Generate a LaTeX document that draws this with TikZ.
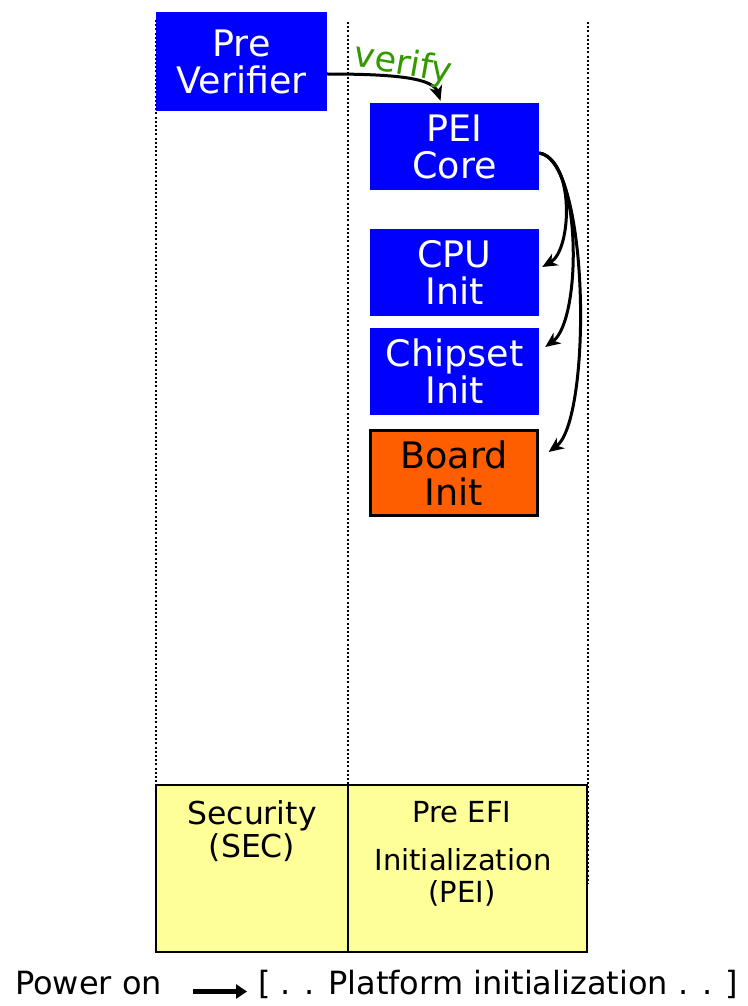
\documentclass[tikz,border=0pt]{standalone}
\usepackage{fontspec}
\setmainfont{DejaVu Sans}
\usetikzlibrary{arrows.meta,calc}
\definecolor{stageblue}{RGB}{0,0,255}
\definecolor{boardorange}{RGB}{255,94,0}
\definecolor{phaseyellow}{RGB}{255,255,153}
\definecolor{verifygreen}{RGB}{51,153,0}
\begin{document}
\begin{tikzpicture}[x=1pt,y=-1pt,
  module/.style={rectangle, fill=stageblue, text=white, inner sep=0pt,
    minimum width=169pt, minimum height=87pt, align=center,
    font=\fontsize{36.5}{37}\selectfont},
  phase/.style={rectangle, draw=black, fill=phaseyellow, line width=2.2pt,
    inner sep=0pt, minimum height=167pt},
  phasetext/.style={inner sep=0pt, align=center},
  lane/.style={line width=2pt, dash pattern=on 2pt off 2.2pt},
  dispatch/.style={line width=3pt, -{Stealth[length=15pt,width=13pt,inset=4.5pt]}},
]
\useasboundingbox (0,0) rectangle (747,1006);

% phase separators
\draw[lane] (156,20) -- (156,785);
\draw[lane] (348,22) -- (348,785);
\draw[lane] (588,22) -- (588,884);

% SEC and PEI phases
\node[phase, minimum width=192pt] (sec) at (252,868.5) {};
\node[phase, minimum width=239pt] (pei) at (467.5,868.5) {};
\node[phasetext, font=\fontsize{31.5}{33}\selectfont] (sectext) at (252,831) {Security\\(SEC)};
\node[phasetext, anchor=base, font=\fontsize{29}{32}\selectfont] (peititle) at (462,822) {Pre EFI};
\node[phasetext, anchor=base, font=\fontsize{29}{32}\selectfont] (peiinit) at (463,870) {Initialization};
\node[phasetext, anchor=base, font=\fontsize{29}{32}\selectfont] (peiabbr) at (462,902) {(PEI)};

% modules
\node[module, minimum width=171pt, minimum height=99pt] (pre) at (241.5,61.5) {Pre\\Verifier};
\node[module] (core) at (454.5,146.5) {PEI\\Core};
\node[module] (cpu) at (454.5,272.5) {CPU\\Init};
\node[module] (chip) at (454.5,371.5) {Chipset\\Init};
\node[module, fill=boardorange, text=black, draw=black, line width=2.2pt,
  minimum width=167pt, minimum height=85pt] (board) at (454,473) {Board\\Init};

% verification hand-off
\draw[dispatch] ([yshift=-12.5pt]pre.east) .. controls (395,74) and (433,78) .. ([xshift=-14pt,yshift=2pt]core.north);
\node[text=verifygreen, rotate=-10, inner sep=0pt, font=\fontsize{35}{35}\selectfont] (verify) at (403,65) {verify};

% PEI core dispatching the init modules
\draw[dispatch] ([yshift=-6.5pt]core.east) .. controls (575,160) and (572,250) .. ([xshift=3pt,yshift=5.5pt]cpu.east);
\draw[dispatch] ([yshift=-6.5pt]core.east) .. controls (582,160) and (582,320) .. ([xshift=6pt,yshift=24.5pt]chip.east);
\draw[dispatch] ([yshift=-6.5pt]core.east) .. controls (590,160) and (592,420) .. ([xshift=10pt,yshift=21pt]board.east);

% boot flow legend
\node[anchor=base west, inner sep=0pt, font=\fontsize{32}{33}\selectfont] (power) at (15,994) {Power on};
\node[anchor=base west, inner sep=0pt, font=\fontsize{32}{33}\selectfont] (platform) at (258,994) {[ . . Platform initialization . . ]};
\coordinate (flowstart) at (193,991.5);
\coordinate (flowend) at (247,991.5);
\draw[line width=4.5pt, -{Triangle[length=11pt,width=14pt]}] (flowstart) -- (flowend);
\end{tikzpicture}
\end{document}
